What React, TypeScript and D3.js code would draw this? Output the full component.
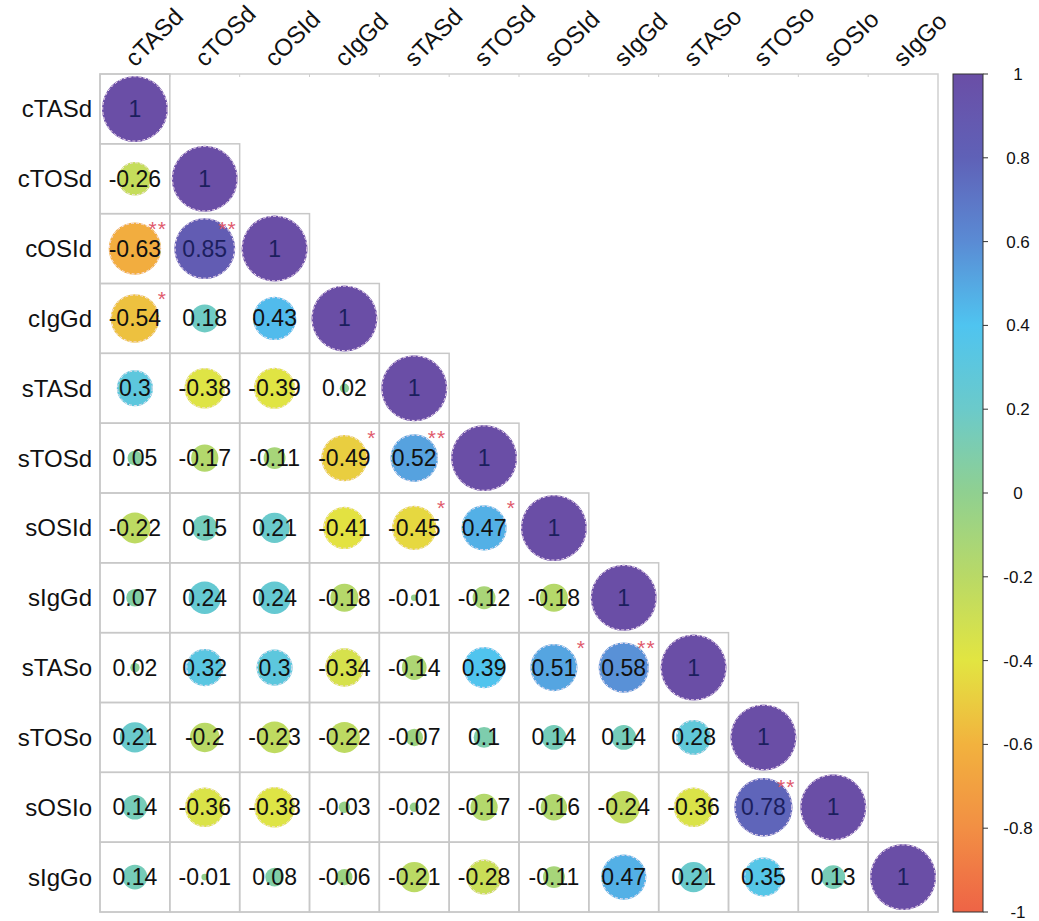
import * as React from "react";
import * as d3 from "d3";

// variable names (rows and columns share them)
const vars = ["cTASd", "cTOSd", "cOSId", "cIgGd", "sTASd", "sTOSd", "sOSId", "sIgGd", "sTASo", "sTOSo", "sOSIo", "sIgGo"];

// lower triangle of the correlation matrix, row by row
const corr: number[][] = [
  [1],
  [-0.26, 1],
  [-0.63, 0.85, 1],
  [-0.54, 0.18, 0.43, 1],
  [0.3, -0.38, -0.39, 0.02, 1],
  [0.05, -0.17, -0.11, -0.49, 0.52, 1],
  [-0.22, 0.15, 0.21, -0.41, -0.45, 0.47, 1],
  [0.07, 0.24, 0.24, -0.18, -0.01, -0.12, -0.18, 1],
  [0.02, 0.32, 0.3, -0.34, -0.14, 0.39, 0.51, 0.58, 1],
  [0.21, -0.2, -0.23, -0.22, -0.07, 0.1, 0.14, 0.14, 0.28, 1],
  [0.14, -0.36, -0.38, -0.03, -0.02, -0.17, -0.16, -0.24, -0.36, 0.78, 1],
  [0.14, -0.01, 0.08, -0.06, -0.21, -0.28, -0.11, 0.47, 0.21, 0.35, 0.13, 1],
];

// significance marks, same shape as corr
const sig: string[][] = [
  [""],
  ["", ""],
  ["**", "**", ""],
  ["*", "", "", ""],
  ["", "", "", "", ""],
  ["", "", "", "*", "**", ""],
  ["", "", "", "", "*", "*", ""],
  ["", "", "", "", "", "", "", ""],
  ["", "", "", "", "", "", "*", "**", ""],
  ["", "", "", "", "", "", "", "", "", ""],
  ["", "", "", "", "", "", "", "", "", "**", ""],
  ["", "", "", "", "", "", "", "", "", "", "", ""],
];

const legendTicks = [1, 0.8, 0.6, 0.4, 0.2, 0, -0.2, -0.4, -0.6, -0.8, -1];

const colorStops = [-1, -0.8, -0.6, -0.4, -0.2, 0, 0.2, 0.4, 0.6, 0.8, 1];
const colorRange = ["#ee6446", "#f28f44", "#f2b23e", "#e2e541", "#b9d966", "#90d090", "#6bcaca", "#4fc4f0", "#5a8bd4", "#5f61b7", "#6a4ea6"];

const W = 1039;
const H = 921;
const grid = { left: 100, top: 74, size: 838 };
const bar = { x: 953, w: 30 };
const FONT = "'Liberation Sans', Arial, sans-serif";

export default function App() {
  const band = d3.scaleBand<string>().domain(vars).range([0, grid.size]);
  const cell = band.bandwidth();
  const color = d3.scaleLinear<string>().domain(colorStops).range(colorRange).interpolate(d3.interpolateRgb);
  const radius = d3.scaleSqrt().domain([0, 1]).range([0, 33]);
  const legendY = d3.scaleLinear().domain([1, -1]).range([grid.top, grid.top + grid.size]);

  const gradStops = d3.range(0, 1.0001, 0.05);

  return (
    <svg width={W} height={H} style={{ position: "absolute", left: 0, top: 0, background: "#fff" }} fontFamily={FONT}>
      <defs>
        <linearGradient id="cbar" x1="0" y1="0" x2="0" y2="1">
          {gradStops.map((t) => (
            <stop key={t} offset={t} stopColor={color(1 - 2 * t)} />
          ))}
        </linearGradient>
      </defs>
      <rect width={W} height={H} fill="#fff" />

      {/* column labels */}
      {vars.map((v) => {
        const x = grid.left + band(v)! + cell / 2;
        const y = grid.top - 6;
        return (
          <text key={"c" + v} x={x} y={y} fontSize={24} fill="#111" transform={`rotate(-45, ${x}, ${y})`}>
            {v}
          </text>
        );
      })}

      {/* row labels */}
      {vars.map((v) => (
        <text key={"r" + v} x={grid.left - 8} y={grid.top + band(v)! + cell / 2 + 8.5} fontSize={24} textAnchor="end" fill="#111">
          {v}
        </text>
      ))}

      <g transform={`translate(${grid.left},${grid.top})`}>
        {/* outer frame */}
        <rect x={0} y={0} width={grid.size} height={grid.size} fill="none" stroke="#cfcfcf" strokeWidth={1.5} />
        {/* small ticks on the top edge */}
        {vars.slice(1).map((v) => (
          <line key={"t" + v} x1={band(v)!} x2={band(v)!} y1={0} y2={3} stroke="#cfcfcf" />
        ))}

        {corr.map((row, i) =>
          row.map((val, j) => {
            const x = band(vars[j])!;
            const y = band(vars[i])!;
            const cx = x + cell / 2;
            const cy = y + cell / 2;
            const r = radius(Math.abs(val));
            const label = val === 1 ? "1" : String(val);
            return (
              <g key={i + "-" + j}>
                <rect x={x} y={y} width={cell} height={cell} fill="none" stroke="#c8c8c8" strokeWidth={1.5} />
                <circle cx={cx} cy={cy} r={r} fill={color(val)} />
                {Math.abs(val) > 0.25 && (
                  <circle cx={cx} cy={cy} r={r - 0.8} fill="none" stroke="#f6e2f0" strokeWidth={1} strokeDasharray="3 2" />
                )}
                <text x={cx} y={cy + 8} fontSize={23} textAnchor="middle" fill={val > 0.7 ? "#1c1f5e" : "#111"}>
                  {label}
                </text>
                {sig[i][j] && (
                  <text x={x + cell - 3} y={y + 22} fontSize={21} textAnchor="end" fill="#e05a6c" letterSpacing={1}>
                    {sig[i][j]}
                  </text>
                )}
              </g>
            );
          })
        )}
      </g>

      {/* colour bar */}
      <rect x={bar.x} y={grid.top} width={bar.w} height={grid.size} fill="url(#cbar)" stroke="#333" strokeWidth={1} />
      {legendTicks.map((t) => (
        <g key={"l" + t}>
          <line x1={bar.x + bar.w} x2={bar.x + bar.w + 5} y1={legendY(t)} y2={legendY(t)} stroke="#333" />
          <text x={1018} y={legendY(t) + 6} fontSize={17} textAnchor="middle" fill="#111">
            {String(t)}
          </text>
        </g>
      ))}
    </svg>
  );
}
